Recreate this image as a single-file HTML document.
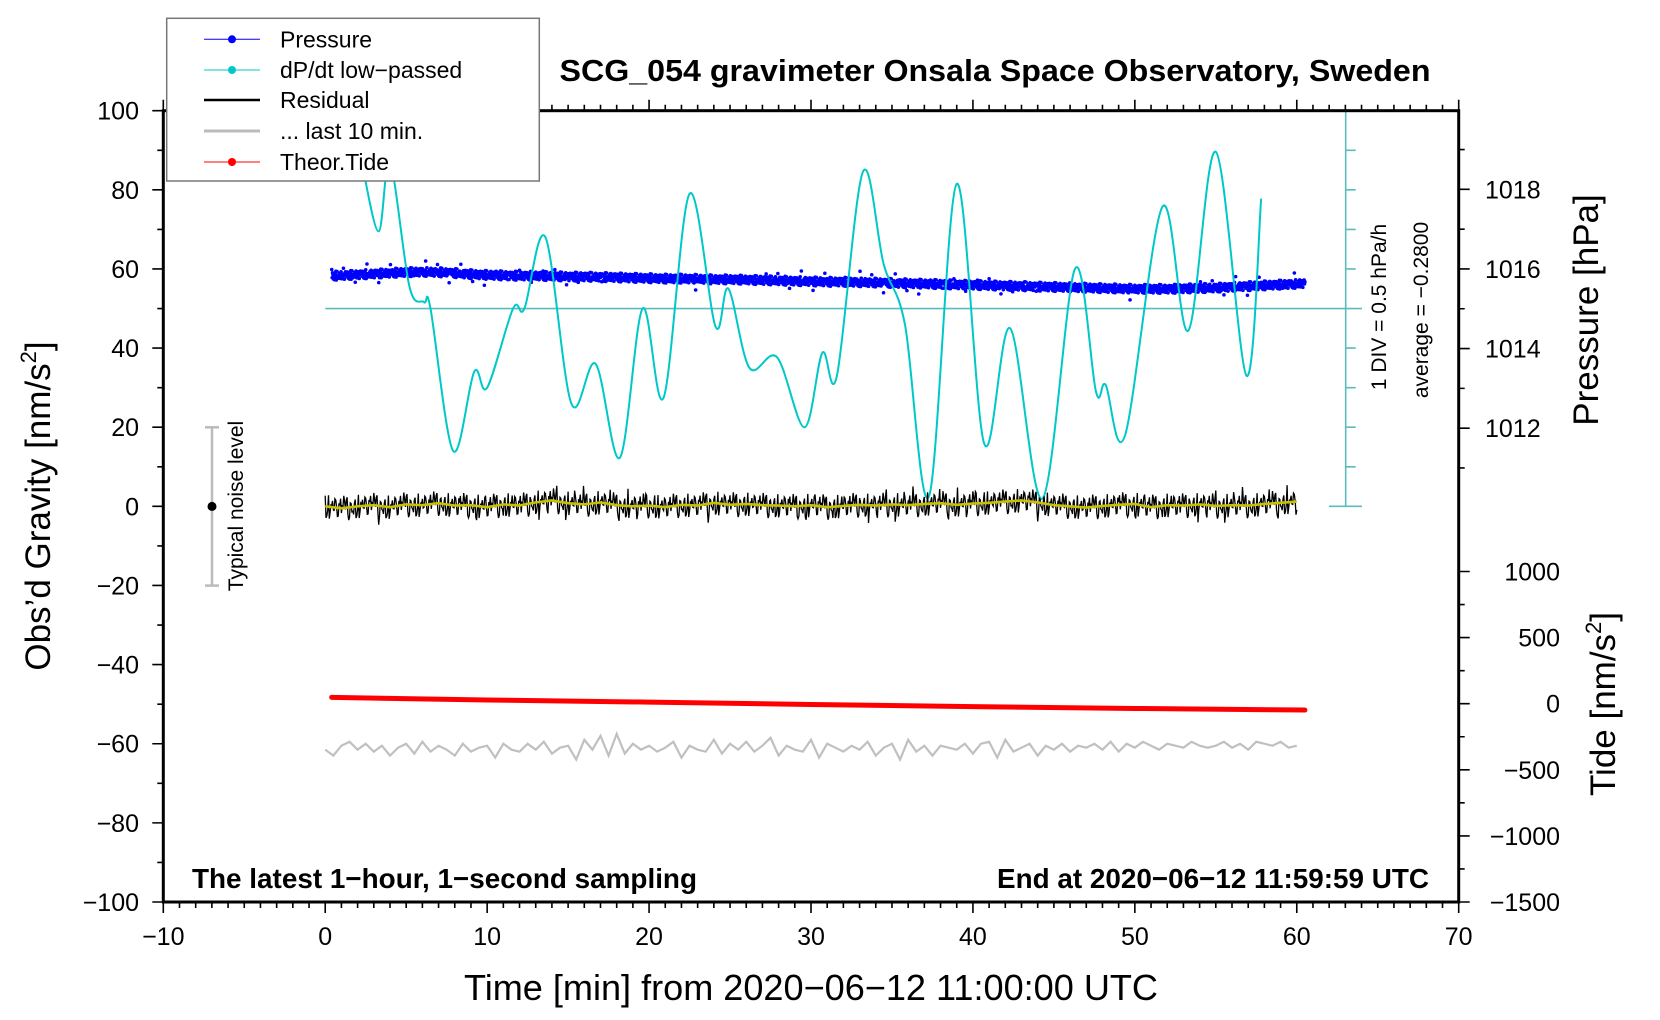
<!DOCTYPE html>
<html><head><meta charset="utf-8"><style>
html,body{margin:0;padding:0;background:#fff;}
svg{display:block;font-family:"Liberation Sans",sans-serif;}
</style></head><body>
<svg id="chart" width="1660" height="1020" viewBox="0 0 1660 1020" xmlns="http://www.w3.org/2000/svg">
<rect width="1660" height="1020" fill="#fff"/>
<g id="ticks"></g>
<g id="series"></g>
<rect x="163.3" y="110.7" width="1295.4" height="791.3" fill="none" stroke="#000" stroke-width="3"/>
<g id="labels" font-size="25"></g>
<text x="995" y="81" font-size="31" font-weight="bold" text-anchor="middle" textLength="871" lengthAdjust="spacingAndGlyphs">SCG_054 gravimeter Onsala Space Observatory, Sweden</text>
<text x="192" y="888" font-size="28" font-weight="bold" textLength="505" lengthAdjust="spacingAndGlyphs">The latest 1−hour, 1−second sampling</text>
<text x="1429" y="888" font-size="28" font-weight="bold" text-anchor="end" textLength="432" lengthAdjust="spacingAndGlyphs">End at 2020−06−12 11:59:59 UTC</text>
<text x="811" y="1000" font-size="36" text-anchor="middle" textLength="694" lengthAdjust="spacingAndGlyphs">Time [min] from 2020−06−12 11:00:00 UTC</text>
<text transform="translate(50,506) rotate(-90)" font-size="35" text-anchor="middle">Obs’d Gravity [nm/s<tspan font-size="22" dy="-14">2</tspan><tspan dy="14">]</tspan></text>
<text transform="translate(1598,310) rotate(-90)" font-size="35" text-anchor="middle">Pressure [hPa]</text>
<text transform="translate(1615,704) rotate(-90)" font-size="35" text-anchor="middle">Tide [nm/s<tspan font-size="22" dy="-14">2</tspan><tspan dy="14">]</tspan></text>
<text transform="translate(1386,307) rotate(-90)" font-size="21" text-anchor="middle">1 DIV = 0.5 hPa/h</text>
<text transform="translate(1428,310) rotate(-90)" font-size="21" text-anchor="middle">average = −0.2800</text>
<g stroke="#bbb" stroke-width="2.5">
<line x1="212" y1="427.3" x2="212" y2="585.6"/><line x1="205" y1="427.3" x2="219" y2="427.3"/><line x1="205" y1="585.6" x2="219" y2="585.6"/>
</g>
<circle cx="212" cy="506.4" r="4.5" fill="#000"/>
<text transform="translate(243,506) rotate(-90)" font-size="21" text-anchor="middle">Typical noise level</text>
<g>
<rect x="166.7" y="18.3" width="372.6" height="162.7" fill="#fff" stroke="#777" stroke-width="1.5"/>
<g><line x1="204" y1="39.3" x2="260" y2="39.3" stroke="#00f" stroke-width="1"/><circle cx="232" cy="39.3" r="4" fill="#00f"/><text x="280" y="47.5" font-size="23">Pressure</text></g>
<g><line x1="204" y1="70" x2="260" y2="70" stroke="#00c8c8" stroke-width="1"/><circle cx="232" cy="70" r="4" fill="#00c8c8"/><text x="280" y="78" font-size="23">dP/dt low−passed</text></g>
<g><line x1="204" y1="100" x2="260" y2="100" stroke="#000" stroke-width="2.5"/><text x="280" y="108" font-size="23">Residual</text></g>
<g><line x1="204" y1="131" x2="260" y2="131" stroke="#bbb" stroke-width="3"/><text x="280" y="139" font-size="23">... last 10 min.</text></g>
<g><line x1="204" y1="162" x2="260" y2="162" stroke="#f00" stroke-width="1"/><circle cx="232" cy="162" r="4" fill="#f00"/><text x="280" y="170" font-size="23">Theor.Tide</text></g>
</g>
</svg>
<script>
// ---- data ----
const xTicks = [-10,0,10,20,30,40,50,60,70];
const yTicks = [100,80,60,40,20,0,-20,-40,-60,-80,-100];
const pressureTicks = [1018,1016,1014,1012];
const tideTicks = [1000,500,0,-500,-1000,-1500];
// dP/dt low-passed (gravity-axis units), time in minutes
const dpdtTimes = [2.3,3.3,4.0,5.2,6.1,6.5,7.9,9.2,10.0,11.6,12.3,13.6,15.2,16.7,18.2,19.6,20.9,22.5,24.1,24.9,26.2,27.9,29.6,30.7,31.6,33.2,34.5,35.8,37.3,39.0,40.7,42.3,44.3,46.3,47.6,48.2,49.4,51.7,53.3,55.0,56.9,57.8];
const dpdtValues = [86,69.5,87,55.6,51.6,50,14,34,30,50,50,68,26,36,12.3,50,27.5,79,45.5,55,35,37.7,20,38.8,33,84.5,61,46,2.7,81.5,15.8,45,2,60,29,30.7,18,75.7,44.4,89.6,33,77.8];
// Pressure in hPa, per minute 0..60
const pressureValues = [1015.82,1015.84,1015.86,1015.88,1015.9,1015.92,1015.93,1015.92,1015.9,1015.87,1015.85,1015.84,1015.83,1015.83,1015.82,1015.81,1015.81,1015.8,1015.79,1015.78,1015.77,1015.76,1015.76,1015.75,1015.74,1015.74,1015.73,1015.72,1015.71,1015.7,1015.69,1015.68,1015.68,1015.67,1015.66,1015.65,1015.64,1015.63,1015.62,1015.61,1015.6,1015.59,1015.58,1015.57,1015.56,1015.55,1015.54,1015.53,1015.52,1015.51,1015.5,1015.5,1015.5,1015.51,1015.52,1015.53,1015.55,1015.57,1015.59,1015.61,1015.63];
// Residual smoothed (yellow), per minute 0..60
const residualValues = [0,-0.5,0,0.3,-0.2,0.5,0.3,0.8,0.2,0.3,-0.2,0.5,0.2,1,1.5,0.8,0.5,1,0.3,0,0.2,-0.2,0.4,0.2,0.9,0.4,0.6,0.3,0.2,0,0.3,-0.2,0.1,0.4,0.2,0.5,0.3,0.6,0.8,0.4,0.7,0.9,1.2,1.5,1,0.3,0,-0.3,0.1,0.4,0.6,-0.2,0.3,0.2,0.5,0.1,0.3,0.2,0.6,0.9,1.2];
// Residual fine noise pattern (nm/s^2)
const noisePattern = [1.8,-2.1,0.9,-0.6,2.6,-1.4,0.3,-2.9,1.2,-0.8,2.2,-1.7,0.5,3.1,-2.4,0.7,-1.1,1.9,-3.2,0.4,1.4,-0.9,2.4,-1.9,0.2,-2.6,1.6,-0.4,2.9,-1.2,0.8,-2.2,1.1,-0.5,2,-3,0.6];
// last 10 min trace (gravity units), every 0.5 min 0..60
const last10Values = [-61.5,-63,-60.5,-59.5,-61.5,-60,-62,-60.5,-63,-61,-60,-62.5,-59.5,-62,-60.5,-61.5,-63,-60,-62,-61,-60.5,-63.5,-60,-61.5,-62,-60,-61.5,-59.5,-62.5,-61,-60.5,-64,-59,-61.5,-58,-63,-57.5,-62.5,-60,-61.5,-60.5,-62,-61,-59.5,-63.5,-60.5,-61.5,-62,-59,-62.5,-60,-61.5,-59.5,-62,-60.5,-58.5,-63,-60.5,-61.5,-62,-59,-63.5,-60,-61,-62,-60.5,-61.5,-59.5,-63,-61,-60,-64,-59,-62,-60.5,-63,-60.5,-61,-61.5,-60,-62.5,-60,-59.5,-63.5,-59,-62,-61,-60,-63,-60.5,-61.5,-60,-62,-60.5,-61,-60,-61.5,-59.5,-62,-60,-61,-59.5,-60.5,-61.5,-60,-60.5,-61,-59.5,-60.5,-61,-60.5,-59.5,-61,-60,-61.5,-59.5,-60,-60.5,-59.5,-61,-60.5];
// Theoretical tide (nm/s^2), every 10 min starting at 0.4
const tideTimes = [0.4,10,20,30,40,50,60.5];
const tideValues = [48,28,12,-6,-22,-36,-48];

// ---- scales ----
const X0=163.3,X1=1458.7,Y0=110.7,Y1=902;
const sx = t => X0 + (t+10)*(X1-X0)/80;
const sy = g => Y0 + (100-g)*(Y1-Y0)/200;
const sp = p => sy(60 + (p-1016)*10.06);
const stide = v => 703.7 - v*(66.1/500);
const NS="http://www.w3.org/2000/svg";
function mk(tag,attrs,parent){const e=document.createElementNS(NS,tag);for(const k in attrs)e.setAttribute(k,attrs[k]);parent.appendChild(e);return e;}
const ticksG=document.getElementById('ticks'),labelsG=document.getElementById('labels'),seriesG=document.getElementById('series');

// ticks
let d='';
for(let t=-10;t<=70;t++){const L=(t%10===0)?11:6;d+=`M${sx(t)},${Y1}v${L}M${sx(t)},${Y0}v${-L}`;}
for(let g=-100;g<=100;g+=10){const L=(g%20===0)?11:6;d+=`M${X0},${sy(g)}h${-L}`;}
for(let p=1011;p<=1019;p++){const L=(p%2===0)?11:6;d+=`M${X1},${sp(p)}h${L}`;}
for(let v=-1500;v<=1000;v+=250){const L=(v%500===0)?11:6;d+=`M${X1},${stide(v)}h${L}`;}
const tp=mk('path',{d:d,stroke:'#000','stroke-width':1.6,fill:'none'},ticksG);



xTicks.forEach(t=>{const e=mk('text',{x:sx(t),y:945,'text-anchor':'middle'},labelsG);e.textContent=String(t).replace('-','−');

});
yTicks.forEach(g=>{const e=mk('text',{x:139,y:sy(g)+9,'text-anchor':'end'},labelsG);e.textContent=String(g).replace('-','−');

});
pressureTicks.forEach(p=>{const e=mk('text',{x:1485,y:sp(p)+9},labelsG);e.textContent=p;

});
tideTicks.forEach(v=>{const e=mk('text',{x:1560,y:stide(v)+9,'text-anchor':'end'},labelsG);e.textContent=String(v).replace('-','−');

});

// dP/dt scale axis
let sd=`M1345.7,${sy(100)}V${sy(0)}M1329,${sy(100)}H1362M1329,${sy(0)}H1362M${sx(0)},${sy(50)}H1362`;
for(let g=10;g<100;g+=10){sd+=`M1345.7,${sy(g)}h10`;}
const sa=mk('path',{d:sd,stroke:'#5cbcbc','stroke-width':1.6,fill:'none'},seriesG);



const lerpArr=(arr,t,step)=>{const i=Math.min(arr.length-2,Math.max(0,Math.floor(t/step)));const f=t/step-i;return arr[i]*(1-f)+arr[i+1]*f;};

// pressure dots
let pd='';
for(let k=0;k<=2420;k++){const t=0.4+k*0.025;if(t>60.5)break;const n=noisePattern[(k*5)%noisePattern.length]*0.035*(k%29===0?2.5:1);const p=lerpArr(pressureValues,t,1)+n;pd+=`M${sx(t).toFixed(1)},${sp(p).toFixed(1)}h0.1`;}
const pp=mk('path',{d:pd,stroke:'#00f','stroke-width':3.5,'stroke-linecap':'round',fill:'none'},seriesG);



// dP/dt curve (Catmull-Rom)
const P=dpdtTimes.map((t,i)=>[sx(t),sy(dpdtValues[i])]);
let cd=`M${P[0][0]},${P[0][1]}`;
for(let i=0;i<P.length-1;i++){const p0=P[Math.max(0,i-1)],p1=P[i],p2=P[i+1],p3=P[Math.min(P.length-1,i+2)];
cd+=`C${p1[0]+(p2[0]-p0[0])/6},${p1[1]+(p2[1]-p0[1])/6} ${p2[0]-(p3[0]-p1[0])/6},${p2[1]-(p3[1]-p1[1])/6} ${p2[0]},${p2[1]}`;}
const cp=mk('path',{d:cd,stroke:'#00c8c8','stroke-width':2,fill:'none'},seriesG);



// residual noise
let rd='';
for(let k=0;k<=1200;k++){const t=k*0.05;const v=lerpArr(residualValues,t,1)+noisePattern[(k*7)%noisePattern.length]*(k%11===0?1.5:1);rd+=(k?'L':'M')+sx(t).toFixed(1)+','+sy(v).toFixed(1);}
const rp=mk('path',{d:rd,stroke:'#000','stroke-width':1.3,fill:'none'},seriesG);


const yd=residualValues.map((v,i)=>(i?'L':'M')+sx(i)+','+sy(v)).join('');
const yp=mk('path',{d:yd,stroke:'#c8c000','stroke-width':2.6,fill:'none'},seriesG);



// last 10 min
const gd=last10Values.map((v,i)=>(i?'L':'M')+sx(i*0.5)+','+sy(v)).join('');
const gp=mk('path',{d:gd,stroke:'#c0c0c0','stroke-width':2.2,fill:'none'},seriesG);



// tide
const td=tideTimes.map((t,i)=>(i?'L':'M')+sx(t)+','+stide(tideValues[i])).join('');
const tdp=mk('path',{d:td,stroke:'#f00','stroke-width':5,'stroke-linecap':'round',fill:'none'},seriesG);


</script>
</body></html>
